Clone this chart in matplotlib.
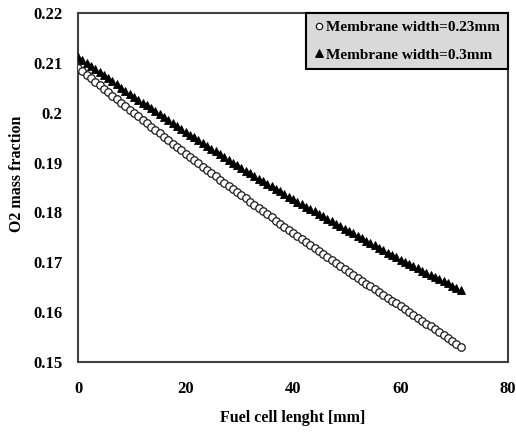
import matplotlib
matplotlib.use("Agg")
import matplotlib.pyplot as plt

length_mm = [0.0, 0.8, 1.6, 2.4, 3.2, 4.0, 4.8, 5.6, 6.4, 7.2,
             8.0, 8.8, 9.6, 10.4, 11.2, 12.0, 12.8, 13.6, 14.4, 15.2,
             16.0, 16.8, 17.6, 18.4, 19.2, 20.0, 20.8, 21.6, 22.4, 23.2,
             24.0, 24.8, 25.6, 26.4, 27.2, 28.0, 28.8, 29.6, 30.4, 31.2,
             32.0, 32.8, 33.6, 34.4, 35.2, 36.0, 36.8, 37.6, 38.4, 39.2,
             40.0, 40.8, 41.6, 42.4, 43.2, 44.0, 44.8, 45.6, 46.4, 47.2,
             48.0, 48.8, 49.6, 50.4, 51.2, 52.0, 52.8, 53.6, 54.4, 55.2,
             56.0, 56.8, 57.6, 58.4, 59.2, 60.0, 60.8, 61.6, 62.4, 63.2,
             64.0, 64.8, 65.6, 66.4, 67.2, 68.0, 68.8, 69.6, 70.4, 71.2]

o2_w023 = [0.2090, 0.2083, 0.2076, 0.2069, 0.2062, 0.2055, 0.2048, 0.2041, 0.2034, 0.2027,
           0.2020, 0.2013, 0.2006, 0.2000, 0.1993, 0.1986, 0.1979, 0.1972, 0.1966, 0.1959,
           0.1952, 0.1945, 0.1938, 0.1932, 0.1925, 0.1918, 0.1912, 0.1905, 0.1899, 0.1892,
           0.1886, 0.1879, 0.1873, 0.1866, 0.1860, 0.1853, 0.1847, 0.1840, 0.1834, 0.1828,
           0.1821, 0.1815, 0.1809, 0.1802, 0.1796, 0.1790, 0.1783, 0.1777, 0.1771, 0.1764,
           0.1758, 0.1752, 0.1746, 0.1740, 0.1734, 0.1728, 0.1722, 0.1716, 0.1710, 0.1704,
           0.1698, 0.1692, 0.1686, 0.1680, 0.1675, 0.1669, 0.1663, 0.1657, 0.1652, 0.1646,
           0.1640, 0.1635, 0.1629, 0.1623, 0.1618, 0.1612, 0.1606, 0.1600, 0.1595, 0.1589,
           0.1583, 0.1577, 0.1572, 0.1566, 0.1560, 0.1554, 0.1549, 0.1543, 0.1537, 0.1531]

o2_w030 = [0.2112, 0.2106, 0.2100, 0.2094, 0.2087, 0.2081, 0.2075, 0.2069, 0.2063, 0.2057,
           0.2050, 0.2044, 0.2038, 0.2032, 0.2026, 0.2020, 0.2015, 0.2009, 0.2003, 0.1997,
           0.1991, 0.1985, 0.1979, 0.1974, 0.1968, 0.1962, 0.1956, 0.1951, 0.1945, 0.1940,
           0.1934, 0.1928, 0.1923, 0.1917, 0.1912, 0.1906, 0.1900, 0.1895, 0.1889, 0.1884,
           0.1879, 0.1874, 0.1868, 0.1863, 0.1858, 0.1852, 0.1847, 0.1842, 0.1837, 0.1831,
           0.1826, 0.1821, 0.1816, 0.1811, 0.1806, 0.1802, 0.1797, 0.1792, 0.1787, 0.1782,
           0.1777, 0.1772, 0.1767, 0.1763, 0.1758, 0.1753, 0.1748, 0.1743, 0.1739, 0.1734,
           0.1729, 0.1724, 0.1719, 0.1715, 0.1710, 0.1705, 0.1701, 0.1696, 0.1692, 0.1688,
           0.1683, 0.1679, 0.1675, 0.1670, 0.1666, 0.1662, 0.1658, 0.1653, 0.1649, 0.1645]

x_ticks = [0, 20, 40, 60, 80]
y_ticks = [0.15, 0.16, 0.17, 0.18, 0.19, 0.2, 0.21, 0.22]
y_tick_labels = ["0.15", "0.16", "0.17", "0.18", "0.19", "0.2", "0.21", "0.22"]
label_a = "Membrane width=0.23mm"
label_b = "Membrane width=0.3mm"
x_title = "Fuel cell lenght [mm]"
y_title = "O2 mass fraction"

plt.rcParams['font.family'] = ['Liberation Serif', 'DejaVu Serif']
plt.rcParams['font.weight'] = 'bold'

fig = plt.figure(figsize=(5.16, 4.33), dpi=100)
ax = fig.add_axes([0.1512, 0.164, 0.8333, 0.806])

ax.plot(length_mm, o2_w030, linestyle='none', marker='^', markersize=6.4,
        markerfacecolor='black', markeredgecolor='black', markeredgewidth=0.6,
        label=label_b, zorder=3)
ax.plot(length_mm, o2_w023, linestyle='none', marker='o', markersize=5.4,
        markerfacecolor='white', markeredgecolor='#1a1a1a', markeredgewidth=0.9,
        label=label_a, zorder=4)

ax.set_xlim(0, 80)
ax.set_ylim(0.15, 0.22)
ax.set_xticks(x_ticks)
ax.set_yticks(y_ticks)
ax.set_yticklabels(y_tick_labels)
ax.tick_params(axis='both', length=0, labelsize=12)
ax.tick_params(axis='x', pad=14)
ax.tick_params(axis='y', pad=11)
for lbl in ax.get_xticklabels() + ax.get_yticklabels():
    lbl.set_fontweight('bold')

for s in ax.spines.values():
    s.set_color('#404040')
    s.set_linewidth(1.5)

ax.set_xlabel(x_title, fontsize=11.5, fontweight='bold')
ax.xaxis.label.set_va('center')
ax.xaxis.set_label_coords(0.5, -0.160)
ax.set_ylabel(y_title, fontsize=11.5, fontweight='bold')
ax.yaxis.label.set_va('center')
ax.yaxis.set_label_coords(-0.142, 0.539)

handles, labels = ax.get_legend_handles_labels()
leg = ax.legend(handles[::-1], labels[::-1], loc='upper right', borderaxespad=0,
                fontsize=11, handletextpad=0.15, handlelength=0.7, markerscale=0.85,
                frameon=True, fancybox=False, edgecolor='black', facecolor='#d9d9d9',
                framealpha=1, borderpad=0.5, labelspacing=0.9)
leg.get_frame().set_linewidth(1.5)
for t in leg.get_texts():
    t.set_fontweight('bold')

fig.savefig("out.png", dpi=100)
